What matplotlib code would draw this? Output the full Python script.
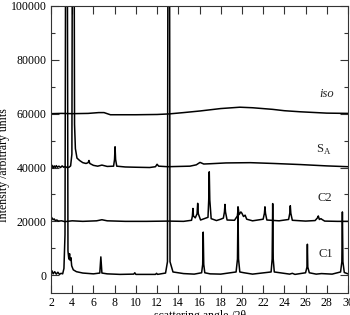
import matplotlib
matplotlib.use("Agg")
import matplotlib.pyplot as plt
from matplotlib.ticker import MultipleLocator

plt.rcParams['font.family'] = ['Liberation Serif', 'DejaVu Serif']
plt.rcParams['mathtext.fontset'] = 'custom'
plt.rcParams['mathtext.rm'] = 'Liberation Serif'

# C1 trace
c1_x = [2.0, 2.1, 2.2, 2.35, 2.5, 2.65, 2.8, 2.95, 3.1, 3.22, 3.32, 3.42, 3.5, 3.6, 3.68,
        3.75, 3.82, 3.88, 3.95, 4.1, 4.4, 5.0, 6.0, 6.6, 6.7, 6.8, 7.3, 8.5, 9.8, 9.9,
        10.0, 11.85, 11.95, 12.05, 12.8, 12.98, 13.05, 13.15, 13.22, 13.5, 14.5, 15.5,
        16.2, 16.3, 16.35, 16.4, 16.5, 17.0, 18.0, 19.45, 19.58, 19.63, 19.68, 19.8,
        20.2, 21.0, 22.75, 22.85, 22.9, 22.95, 23.05, 24.5, 24.75, 25.0, 26.0, 26.13, 26.17,
        26.21, 26.35, 27.0, 27.5, 28.5, 29.3, 29.42, 29.47, 29.52, 29.65, 30.0]
c1_y = [800, 1600, 500, 1300, 400, 1100, 300, 700, 500, 2500, 15000, 200000, 200000, 9000,
        6000, 8000, 5500, 6500, 3500, 2000, 1300, 800, 500, 800, 6800, 800, 500, 300, 400,
        900, 300, 300, 700, 300, 800, 5000, 200000, 200000, 5000, 1200, 600, 400,
        900, 4000, 16000, 4000, 900, 500, 400, 1200, 6000, 25400, 6000, 1200,
        900, 400, 1200, 6000, 26600, 6000, 1200, 400, 700, 300, 900, 3000, 11500,
        3000, 900, 400, 600, 400, 1200, 5000, 23500, 5000, 1000, 500]

# C2 trace
c2_x = [2.0, 2.1, 2.2, 2.3, 2.4, 2.55, 2.7, 3.0, 3.3, 4.0, 5.0, 6.3, 6.8, 7.3, 9.0, 11.0,
        13.0, 14.5, 15.25, 15.33, 15.38, 15.43, 15.6, 15.77, 15.83, 15.89, 16.1, 16.8, 16.87,
        16.92, 16.97, 17.1, 17.6, 18.0, 18.25, 18.35, 18.4, 18.45, 18.6, 19.3, 19.57, 19.65,
        19.73, 19.9, 20.0, 20.15, 20.3, 20.45, 21.0, 22.0, 22.12, 22.17, 22.22, 22.35, 23.5,
        24.4, 24.51, 24.56, 24.61, 24.75, 26.0, 26.9, 27.12, 27.2, 27.3, 27.45, 27.55, 27.8,
        29.0, 30.0]
c2_y = [21800, 21200, 20600, 20900, 20300, 20500, 20100, 20200, 19900, 20200, 20000, 20200,
        20600, 20200, 20000, 20000, 20100, 20000, 20400, 22000, 24800, 22000, 21300, 22800,
        26700, 22800, 20500, 21500, 28000, 38400, 28000, 21000, 20300, 20800, 21200, 23500,
        26300, 23500, 20500, 20400, 22000, 25000, 22500, 23500, 23000, 21800, 22300, 20800,
        20200, 20800, 23000, 25400, 23000, 20500, 20200, 20700, 23000, 25800, 23000, 20400,
        20100, 20300, 21300, 22000, 20700, 21000, 20700, 20100, 20000, 20000]

# SA trace
sa_x = [2.0, 2.1, 2.2, 2.3, 2.4, 2.5, 2.6, 2.75, 2.9, 3.05, 3.2, 3.35, 3.5, 3.7, 3.85, 3.97,
        4.05, 4.14, 4.22, 4.3, 4.45, 4.7, 5.0, 5.3, 5.5, 5.58, 5.66, 6.0, 6.4, 6.8, 7.3,
        7.9, 7.99, 8.04, 8.09, 8.2, 9.0, 10.0, 11.3, 11.85, 12.0, 12.15, 13.0, 15.1,
        15.7, 16.05, 16.4, 17.0, 18.5, 20.8, 23.0, 25.5, 28.0, 30.0]
sa_y = [40200, 40800, 39800, 40600, 40000, 40700, 40100, 40500, 40000, 40600, 40100, 40400,
        40000, 40100, 40600, 45000, 200000, 200000, 56000, 47000, 43500, 42600, 41800, 41500,
        41800, 42600, 41500, 40800, 40500, 40900, 40400, 40500, 43000, 47700, 43000, 40500,
        40200, 40100, 40000, 40300, 41200, 40500, 40300, 40500, 41000, 41900, 41300, 41400,
        41700, 41800, 41500, 41100, 40600, 40300]

# iso trace
iso_x = [2.0, 3.0, 4.0, 5.5, 6.5, 7.0, 7.6, 8.5, 10.0, 12.0, 13.1, 14.5, 16.05, 18.0, 19.8,
         21.0, 22.9, 24.0, 25.5, 28.0, 30.0]
iso_y = [60000, 60100, 60000, 60100, 60400, 60400, 59600, 59600, 59600, 59700, 59900, 60400,
         61000, 61900, 62400, 62200, 61600, 61100, 60700, 60200, 60100]

labels = ['iso', 'S$_\\mathregular{A}$', 'C2', 'C1']
label_x = [28.0, 27.7, 27.8, 27.95]
label_y = [67200, 46700, 28500, 7800]

fig = plt.figure(figsize=(3.5, 3.15), dpi=100)
ax = fig.add_axes([0.1457, 0.0708, 0.8486, 0.9102])

for xs, ys in [(c1_x, c1_y), (c2_x, c2_y), (sa_x, sa_y), (iso_x, iso_y)]:
    ax.plot(xs, ys, color='black', lw=1.1)

for i, t in enumerate(labels):
    ax.text(label_x[i], label_y[i], t, fontsize=9, ha='center', va='center',
            style='italic' if t == 'iso' else 'normal', color='#222222')

ax.set_xlim(2, 30)
ax.set_ylim(-6500, 100000)
ax.xaxis.set_major_locator(MultipleLocator(2))
ax.yaxis.set_major_locator(MultipleLocator(20000))
ax.yaxis.set_minor_locator(MultipleLocator(10000))
ax.tick_params(which='both', direction='in', top=True, right=True, labelsize=8.5,
               color='#333333', width=0.8)
ax.tick_params(which='major', length=6, pad=3)
ax.tick_params(which='minor', length=3)
for s in ax.spines.values():
    s.set_linewidth(0.8)
    s.set_color('#333333')

ax.set_xlabel('scattering angle /2θ', fontsize=8.5, labelpad=1)
ax.set_ylabel('Intensity /arbitrary units', fontsize=8.5)
ax.yaxis.set_label_coords(-0.138, 0.445)

fig.savefig('out.png', dpi=100)
